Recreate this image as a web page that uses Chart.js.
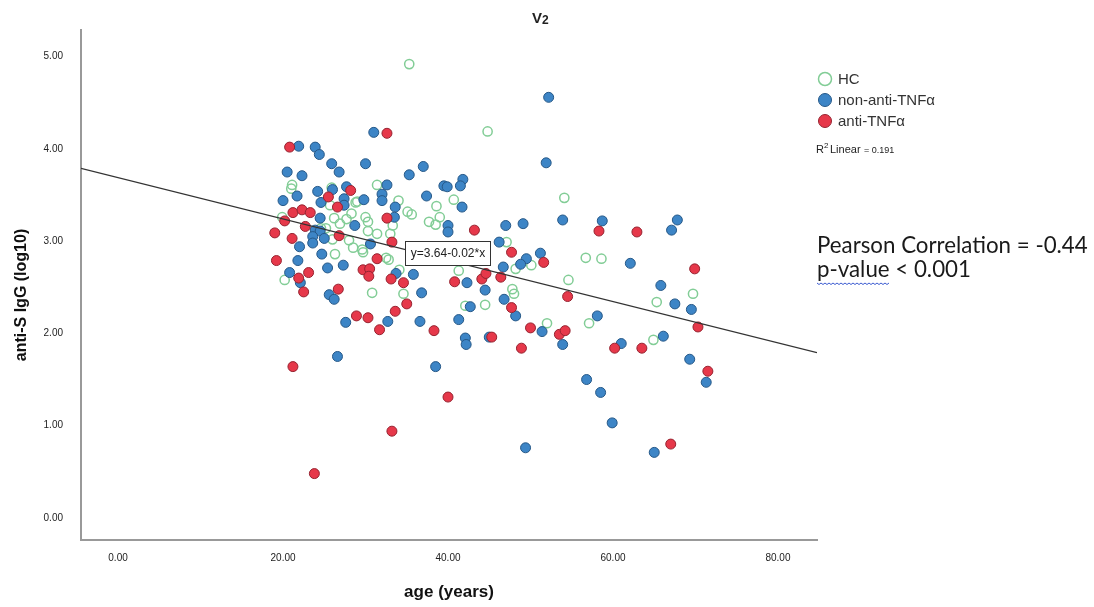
<!DOCTYPE html>
<html>
<head>
<meta charset="utf-8">
<script src="https://cdn.jsdelivr.net/npm/chart.js@4.4.1/dist/chart.umd.min.js"></script>
<style>
body{margin:0;background:#fff;}
#wrap{width:1094px;height:607px;position:relative;}
</style>
</head>
<body>
<div id="wrap"><canvas id="scatter"></canvas></div>
<script>
// values (age in years, anti-S IgG log10)
const hcAge = [35.3,21.1,21.0,25.9,31.4,25.7,28.8,34.0,38.6,40.7,35.1,35.6,19.9,26.2,27.7,26.9,30.0,30.3,33.3,37.7,39.0,38.5,26.0,28.0,30.3,31.4,33.0,28.5,29.6,26.3,29.7,32.5,20.2,41.3,30.8,34.6,42.1,44.8,54.1,47.1,50.1,48.2,56.7,58.6,54.6,47.8,48.0,44.5,65.3,69.7,52.0,57.1,64.9,25.2,29.0,32.8,24.6,28.3,34.1];
const hcVal = [4.92,3.61,3.57,3.58,3.61,3.39,3.42,3.44,3.38,3.45,3.32,3.29,3.26,3.25,3.24,3.19,3.26,3.21,3.17,3.21,3.26,3.18,3.02,3.01,3.11,3.08,3.08,2.93,2.91,2.86,2.88,2.82,2.58,2.68,2.44,2.43,2.30,4.19,3.47,2.99,2.74,2.70,2.82,2.81,2.58,2.48,2.43,2.31,2.34,2.43,2.11,2.11,1.93,3.14,3.43,2.80,3.14,3.30,2.69];

const nonAge = [31.0,21.9,23.9,24.4,25.9,26.8,30.0,37.0,35.3,20.5,22.3,24.2,26.0,27.7,32.6,39.5,39.9,41.8,41.5,20.0,21.7,24.6,27.4,29.8,32.0,32.0,37.4,41.7,27.4,33.6,24.5,28.7,33.5,40.0,40.0,23.9,24.5,23.6,25.0,30.6,22.0,23.6,24.7,21.8,25.4,27.3,20.8,33.7,35.8,42.3,22.1,25.6,26.2,36.8,27.6,32.7,36.6,42.7,41.3,42.1,42.2,26.6,38.5,52.2,51.9,47.0,49.1,53.9,58.7,67.8,67.1,46.2,51.2,49.5,48.8,46.7,62.1,44.5,46.8,48.2,65.8,67.5,69.5,58.1,51.4,53.9,45.0,61.0,66.1,69.3,71.3,56.8,58.5,59.9,49.4,65.0];
const nonVal = [4.18,4.03,4.02,3.94,3.84,3.75,3.84,3.81,3.72,3.75,3.71,3.54,3.56,3.59,3.61,3.60,3.59,3.67,3.60,3.44,3.49,3.42,3.46,3.45,3.51,3.44,3.49,3.37,3.39,3.37,3.25,3.17,3.26,3.17,3.10,3.12,3.11,3.05,3.03,2.97,2.94,2.98,2.86,2.79,2.71,2.74,2.66,2.65,2.64,2.55,2.55,2.42,2.37,2.44,2.12,2.13,2.13,2.29,2.15,1.95,1.88,1.75,1.64,4.56,3.85,3.17,3.19,3.23,3.22,3.23,3.12,2.99,2.87,2.81,2.75,2.72,2.76,2.47,2.37,2.19,2.52,2.32,2.26,2.19,2.02,1.88,1.96,1.89,1.97,1.72,1.47,1.50,1.36,1.03,0.76,0.71];

const antiAge = [32.6,20.8,28.2,25.5,26.6,21.2,22.3,23.3,20.2,32.6,43.2,19.0,22.7,21.1,26.8,33.2,31.4,19.2,29.7,30.5,30.4,23.1,21.9,33.1,34.6,40.8,44.1,22.5,26.7,35.0,33.6,28.9,30.3,31.7,38.3,21.2,40.0,33.2,23.8,58.3,62.9,47.7,51.6,44.6,46.4,69.9,54.5,47.7,70.3,50.0,53.5,54.2,45.3,48.9,60.2,63.5,71.5,67.0];
const antiVal = [4.17,4.02,3.55,3.48,3.37,3.31,3.34,3.31,3.22,3.25,3.12,3.09,3.16,3.03,3.06,2.99,2.81,2.79,2.69,2.70,2.62,2.66,2.60,2.59,2.55,2.56,2.59,2.45,2.48,2.32,2.24,2.19,2.17,2.04,2.03,1.64,1.31,0.94,0.48,3.11,3.10,2.88,2.77,2.65,2.61,2.70,2.40,2.28,2.07,2.06,1.99,2.03,1.96,1.84,1.84,1.84,1.59,0.80];

const seriesNames = ['HC', 'non-anti-TNF\u03b1', 'anti-TNF\u03b1'];
const xTicks = [0, 20, 40, 60, 80];
const yTicks = [0, 1, 2, 3, 4, 5];
const fitIntercept = 3.69;
const fitSlope = -0.0224;
const xMin = -4.49, xMax = 84.73;
const yMin = -0.24, yMax = 5.29;

const hcColor = 'rgb(130,205,150)';
const blueFill = 'rgb(61,133,198)', blueEdge = 'rgb(38,88,135)';
const redFill = 'rgb(230,56,74)', redEdge = 'rgb(150,35,48)';

function toPoints(xs, ys){
    return xs.map((x, i) => ({x: x, y: ys[i]}));
}

const fitLine = [
    {x: xMin, y: fitIntercept + fitSlope * xMin},
    {x: xMax, y: fitIntercept + fitSlope * xMax}
];

function fitText(ctx, text, width, family, weight){
    ctx.font = weight + ' 20px ' + family;
    let size = 20 * width / ctx.measureText(text).width;
    return weight + ' ' + size.toFixed(1) + 'px ' + family;
}

const extras = {
    id: 'extras',
    afterDatasetsDraw(chart){
        const ctx = chart.ctx;
        ctx.save();
        // equation label on the fit line
        ctx.fillStyle = '#fff';
        ctx.strokeStyle = '#333';
        ctx.lineWidth = 1;
        ctx.fillRect(405.5, 241.5, 85, 24);
        ctx.strokeRect(405.5, 241.5, 85, 24);
        ctx.fillStyle = '#222';
        ctx.font = '12px "Liberation Sans Narrow", "Liberation Sans", sans-serif';
        ctx.textAlign = 'center';
        ctx.textBaseline = 'middle';
        ctx.fillText('y=3.64-0.02*x', 448, 254);
        ctx.restore();
    },
    afterDraw(chart){
        const ctx = chart.ctx;
        ctx.save();
        // title
        ctx.fillStyle = '#222';
        ctx.textAlign = 'left';
        ctx.textBaseline = 'alphabetic';
        ctx.font = 'bold 15px "Liberation Sans", sans-serif';
        ctx.fillText('V', 532, 23);
        ctx.font = 'bold 12px "Liberation Sans", sans-serif';
        ctx.fillText('2', 542, 24);

        // y axis title
        ctx.save();
        ctx.translate(22, 295);
        ctx.rotate(-Math.PI / 2);
        ctx.textAlign = 'center';
        ctx.textBaseline = 'middle';
        ctx.font = 'bold 16px "Liberation Sans", sans-serif';
        ctx.fillStyle = '#111';
        ctx.fillText('anti-S IgG (log10)', 0, 0);
        ctx.restore();

        // legend
        const ly = [79, 100, 121];
        const fills = [null, blueFill, redFill];
        const edges = [hcColor, blueEdge, redEdge];
        ctx.textAlign = 'left';
        ctx.textBaseline = 'middle';
        ctx.font = '15px "Liberation Sans", sans-serif';
        seriesNames.forEach((name, i) => {
            ctx.beginPath();
            ctx.arc(825, ly[i], 6.5, 0, Math.PI * 2);
            if(fills[i]){ ctx.fillStyle = fills[i]; ctx.fill(); }
            ctx.lineWidth = i === 0 ? 1.5 : 1;
            ctx.strokeStyle = edges[i];
            ctx.stroke();
            ctx.fillStyle = '#333';
            ctx.fillText(name, 838, ly[i] + 1);
        });

        // R2 text
        ctx.fillStyle = '#222';
        ctx.font = '11px "Liberation Sans", sans-serif';
        ctx.fillText('R', 816, 150);
        ctx.font = '8px "Liberation Sans", sans-serif';
        ctx.fillText('2', 824, 146);
        ctx.font = '11px "Liberation Sans", sans-serif';
        ctx.fillText('Linear', 830, 150);
        ctx.font = '9px "Liberation Sans Narrow", "Liberation Sans", sans-serif';
        ctx.fillText('= 0.191', 864, 151);

        // correlation note
        ctx.fillStyle = '#1a1a1a';
        ctx.font = fitText(ctx, 'Pearson Correlation = -0.44', 271, 'Lato, "Open Sans", sans-serif', 'normal');
        ctx.fillText('Pearson Correlation = -0.44', 817, 246);
        ctx.fillText('p-value < 0.001', 817, 270);

        // spell-check squiggle under p-value
        ctx.strokeStyle = '#3b5bd0';
        ctx.lineWidth = 1;
        ctx.beginPath();
        for(let x = 817; x <= 890; x += 2){
            let y = 283 + ((x - 817) % 4 === 0 ? 0 : 1.5);
            if(x === 817) ctx.moveTo(x, y); else ctx.lineTo(x, y);
        }
        ctx.stroke();
        ctx.restore();
    }
};

const tickFont = {family: '"Liberation Sans Narrow", "Liberation Sans", sans-serif', size: 10};

new Chart(document.getElementById('scatter'), {
    type: 'scatter',
    data: {
        datasets: [
            {
                label: seriesNames[0],
                data: toPoints(hcAge, hcVal),
                backgroundColor: 'rgba(255,255,255,0)',
                borderColor: hcColor,
                borderWidth: 1.5,
                pointRadius: 4.6,
                order: 3
            },
            {
                label: seriesNames[1],
                data: toPoints(nonAge, nonVal),
                backgroundColor: blueFill,
                borderColor: blueEdge,
                borderWidth: 1,
                pointRadius: 5,
                order: 2
            },
            {
                label: seriesNames[2],
                data: toPoints(antiAge, antiVal),
                backgroundColor: redFill,
                borderColor: redEdge,
                borderWidth: 1,
                pointRadius: 5,
                order: 1
            },
            {
                type: 'line',
                label: 'fit',
                data: fitLine,
                borderColor: '#333',
                borderWidth: 1.2,
                pointRadius: 0,
                fill: false,
                order: 0
            }
        ]
    },
    options: {
        responsive: true,
        maintainAspectRatio: false,
        animation: false,
        layout: { padding: { top: 30, right: 277, left: 0, bottom: 0 } },
        plugins: {
            legend: { display: false },
            tooltip: { enabled: false }
        },
        scales: {
            x: {
                type: 'linear',
                min: xMin,
                max: xMax,
                afterBuildTicks: s => { s.ticks = xTicks.map(v => ({value: v})); },
                afterFit: s => { s.height = 67; },
                grid: { display: false, drawTicks: false },
                border: { display: true, color: '#999', width: 2 },
                ticks: {
                    padding: 12,
                    color: '#222',
                    font: tickFont,
                    callback: v => v.toFixed(2)
                },
                title: {
                    display: true,
                    text: 'age (years)',
                    color: '#111',
                    font: { family: '"Liberation Sans", sans-serif', size: 17, weight: 'bold' },
                    padding: { top: 0, bottom: 4 }
                }
            },
            y: {
                type: 'linear',
                min: yMin,
                max: yMax,
                afterBuildTicks: s => { s.ticks = yTicks.map(v => ({value: v})); },
                afterFit: s => { s.width = 81; },
                grid: { display: false, drawTicks: false },
                border: { display: true, color: '#999', width: 2 },
                ticks: {
                    padding: 18,
                    color: '#222',
                    font: tickFont,
                    callback: v => v.toFixed(2)
                }
            }
        }
    },
    plugins: [extras]
});
</script>
</body>
</html>
